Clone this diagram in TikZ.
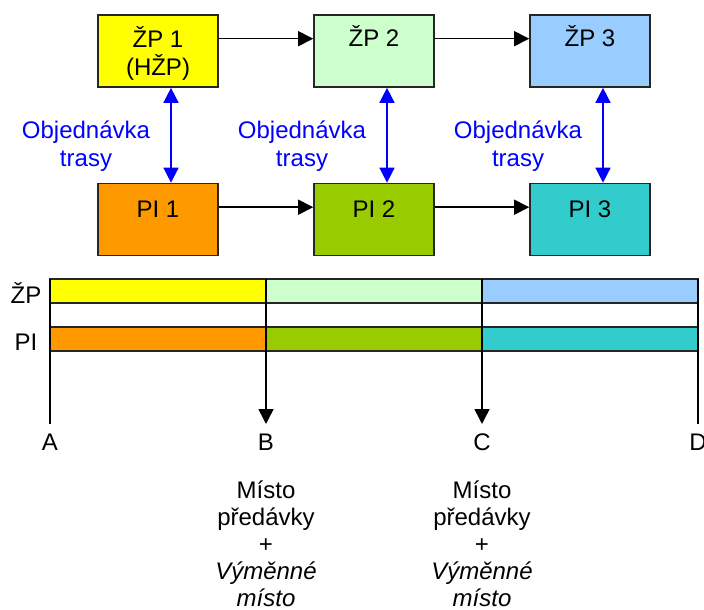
\documentclass[tikz,border=0pt]{standalone}
\usepackage{fontspec}
\setmainfont{Liberation Sans}
\usetikzlibrary{arrows.meta,calc}
\definecolor{cyel}{HTML}{FFFF00}
\definecolor{clgr}{HTML}{CCFFCC}
\definecolor{clbl}{HTML}{99CCFF}
\definecolor{corg}{HTML}{FF9900}
\definecolor{cgrn}{HTML}{99CC00}
\definecolor{ctea}{HTML}{33CCCC}
\definecolor{cblu}{HTML}{0000FF}
\tikzset{
  box/.style={draw=black!85, line width=1.7pt, rectangle, minimum width=120pt, minimum height=72pt, inner sep=0pt},
  txt/.style={font=\fontsize{24}{27.5}\selectfont, align=center, inner sep=0pt},
  flow/.style={line width=1.6pt, -{Triangle[length=15pt,width=15pt]}},
  order/.style={line width=1.6pt, cblu, {Triangle[length=15pt,width=15pt]}-{Triangle[length=15pt,width=15pt]}},
  bar/.style={draw=black!85, line width=1.7pt},
  tick/.style={line width=1.6pt},
}
\begin{document}
\begin{tikzpicture}[x=1pt,y=-1pt]
\useasboundingbox (0,0) rectangle (704,610);
% top boxes
\node[box, fill=cyel] (zp1) at (158,51) {};
\node[box, fill=clgr] (zp2) at (374,51) {};
\node[box, fill=clbl] (zp3) at (590,51) {};
\node[box, fill=corg] (pi1) at (158,219.5) {};
\node[box, fill=cgrn] (pi2) at (374,219.5) {};
\node[box, fill=ctea] (pi3) at (590,219.5) {};
% box texts (base = baseline of last line)
\node[txt, anchor=base] (tzp1) at (158,75) {ŽP 1\\(HŽP)};
\node[txt, anchor=base] (tzp2) at (374,47) {ŽP 2};
\node[txt, anchor=base] (tzp3) at (590,47) {ŽP 3};
\node[txt, anchor=base] (tpi1) at (158,217) {PI 1};
\node[txt, anchor=base] (tpi2) at (374,217) {PI 2};
\node[txt, anchor=base] (tpi3) at (590,217) {PI 3};
% horizontal arrows
\draw[flow] ($(zp1.north east)!0.333!(zp1.south east)$) -- ($(zp2.north west)!0.333!(zp2.south west)$);
\draw[flow] ($(zp2.north east)!0.333!(zp2.south east)$) -- ($(zp3.north west)!0.333!(zp3.south west)$);
\draw[flow] ($(pi1.north east)!0.333!(pi1.south east)$) -- ($(pi2.north west)!0.333!(pi2.south west)$);
\draw[flow] ($(pi2.north east)!0.333!(pi2.south east)$) -- ($(pi3.north west)!0.333!(pi3.south west)$);
% blue double arrows
\draw[order] ($(zp1.south)+(13,0)$) -- ($(pi1.north)+(13,0)$);
\draw[order] ($(zp2.south)+(13,0)$) -- ($(pi2.north)+(13,0)$);
\draw[order] ($(zp3.south)+(13,0)$) -- ($(pi3.north)+(13,0)$);
\node[txt, anchor=base, text=cblu] (o1) at (86,166) {Objednávka\\trasy};
\node[txt, anchor=base, text=cblu] (o2) at (302,166) {Objednávka\\trasy};
\node[txt, anchor=base, text=cblu] (o3) at (518,166) {Objednávka\\trasy};
% bars
\draw[bar, fill=cyel] (50,279) rectangle (266,303);
\draw[bar, fill=clgr] (266,279) rectangle (482,303);
\draw[bar, fill=clbl] (482,279) rectangle (698,303);
\draw[bar, fill=corg] (50,327) rectangle (266,351);
\draw[bar, fill=cgrn] (266,327) rectangle (482,351);
\draw[bar, fill=ctea] (482,327) rectangle (698,351);
\node[txt] (lzp) at (26,293) {ŽP};
\node[txt] (lpi) at (26,342) {PI};
% vertical lines
\coordinate (a0) at (50,279);
\coordinate (a1) at (50,424);
\coordinate (b0) at (266,279);
\coordinate (b1) at (266,424);
\coordinate (c0) at (482,279);
\coordinate (c1) at (482,424);
\coordinate (d0) at (698,279);
\coordinate (d1) at (698,424);
\draw[tick] (a0) -- (a1);
\draw[flow] (b0) -- (b1);
\draw[flow] (c0) -- (c1);
\draw[tick] (d0) -- (d1);
\node[txt, anchor=base] (la) at (50,450) {A};
\node[txt, anchor=base] (lb) at (266,450) {B};
\node[txt, anchor=base] (lc) at (482,450) {C};
\node[txt, anchor=base] (ld) at (698,450) {D};
% bottom texts
\node[txt, anchor=base, font=\fontsize{24}{27}\selectfont] (mb) at (266,606) {Místo\\předávky\\+\\\textit{Výměnné}\\\textit{místo}};
\node[txt, anchor=base, font=\fontsize{24}{27}\selectfont] (mc) at (482,606) {Místo\\předávky\\+\\\textit{Výměnné}\\\textit{místo}};
\end{tikzpicture}
\end{document}
